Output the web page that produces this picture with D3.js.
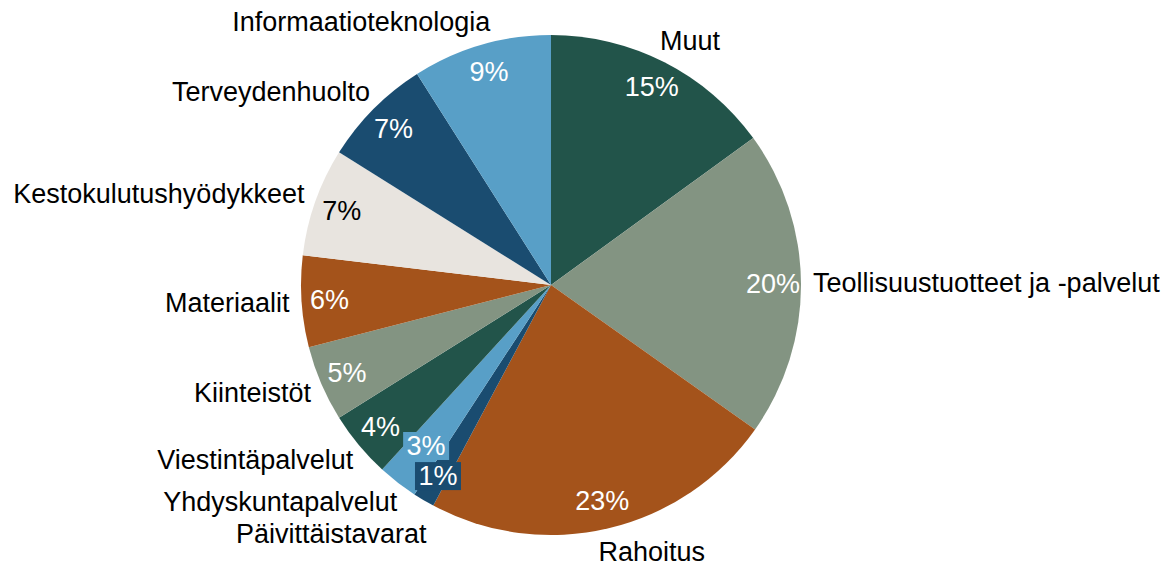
<!DOCTYPE html>
<html>
<head>
<meta charset="utf-8">
<script src="https://cdn.jsdelivr.net/npm/d3@7"></script>
<style>
  body { margin: 0; background: #fff; }
  text { font-family: "Liberation Sans", Arial, sans-serif; }
</style>
</head>
<body>
<svg id="chart"></svg>
<script>
// sectors, clockwise from 12 o'clock
var categories = ["Muut", "Teollisuustuotteet ja -palvelut", "Rahoitus", "Päivittäistavarat",
    "Yhdyskuntapalvelut", "Viestintäpalvelut", "Kiinteistöt", "Materiaalit",
    "Kestokulutushyödykkeet", "Terveydenhuolto", "Informaatioteknologia"];
var shares = [15.0, 19.8, 23.0, 1.4, 2.6, 4.3, 4.9, 5.9, 7.0, 7.1, 9.0];
var colors = ["#22544a", "#839482", "#a4531b", "#1a4c70", "#589fc7", "#22544a",
    "#839482", "#a4531b", "#e8e4df", "#1a4c70", "#589fc7"];
var boxed = ["Päivittäistavarat", "Yhdyskuntapalvelut"];

var width = 1174, height = 568;
var cx = 551, cy = 285, radius = 250;
var fontSize = 27;

var svg = d3.select("#chart")
    .attr("width", width)
    .attr("height", height);

var data = categories.map(function(c, i) {
    return { name: c, value: shares[i], color: colors[i] };
});

var pie = d3.pie().sort(null).value(function(d) { return d.value; });
var arcs = pie(data);

var arc = d3.arc().innerRadius(0).outerRadius(radius);

var g = svg.append("g")
    .attr("transform", "translate(" + cx + "," + cy + ")");

g.selectAll("path.slice")
    .data(arcs)
    .enter().append("path")
    .attr("class", "slice")
    .attr("d", arc)
    .attr("fill", function(d) { return d.data.color; });

function mid(d) { return (d.startAngle + d.endAngle) / 2; }

// percentage labels
var pctFmt = function(v) { return Math.round(v) + "%"; };
var labelR = radius * 0.888;

var pct = g.selectAll("g.pct")
    .data(arcs)
    .enter().append("g")
    .attr("class", "pct")
    .attr("transform", function(d) {
        var r = labelR;
        if (d.data.name === boxed[1]) r = radius * 0.815;
        var a = mid(d);
        return "translate(" + (Math.sin(a) * r) + "," + (-Math.cos(a) * r) + ")";
    });

pct.filter(function(d) { return boxed.indexOf(d.data.name) >= 0; })
    .append("rect")
    .attr("x", -23).attr("y", -14)
    .attr("width", 46).attr("height", 28)
    .attr("fill", function(d) { return d.data.color; });

pct.append("text")
    .attr("text-anchor", "middle")
    .attr("dominant-baseline", "central")
    .attr("font-size", fontSize)
    .attr("fill", function(d) { return d.data.color === "#e8e4df" ? "#000" : "#fff"; })
    .text(function(d) { return pctFmt(d.data.value); });

// category labels outside the pie
var outR = radius + 12;
var labels = arcs.map(function(d) {
    var a = mid(d), s = Math.sin(a), c = Math.cos(a);
    var shift = 14 * Math.pow(Math.abs(c), 3) * (s >= 0 ? -1 : 1);
    return {
        name: d.data.name,
        left: s < 0,
        x: s * outR + shift,
        y: -c * outR - c * 12
    };
});

// push apart overlapping labels on the left side
var left = labels.filter(function(l) { return l.left; })
    .sort(function(a, b) { return a.y - b.y; });
var gap = 32;
for (var i = 1; i < left.length; i++) {
    if (left[i].y - left[i - 1].y < gap) left[i].y = left[i - 1].y + gap;
}

g.selectAll("text.cat")
    .data(labels)
    .enter().append("text")
    .attr("class", "cat")
    .attr("font-size", fontSize)
    .attr("fill", "#000")
    .attr("dominant-baseline", "central")
    .attr("text-anchor", function(d) { return d.left ? "end" : "start"; })
    .attr("x", function(d) { return d.x; })
    .attr("y", function(d) { return d.y; })
    .text(function(d) { return d.name; });
</script>
</body>
</html>
